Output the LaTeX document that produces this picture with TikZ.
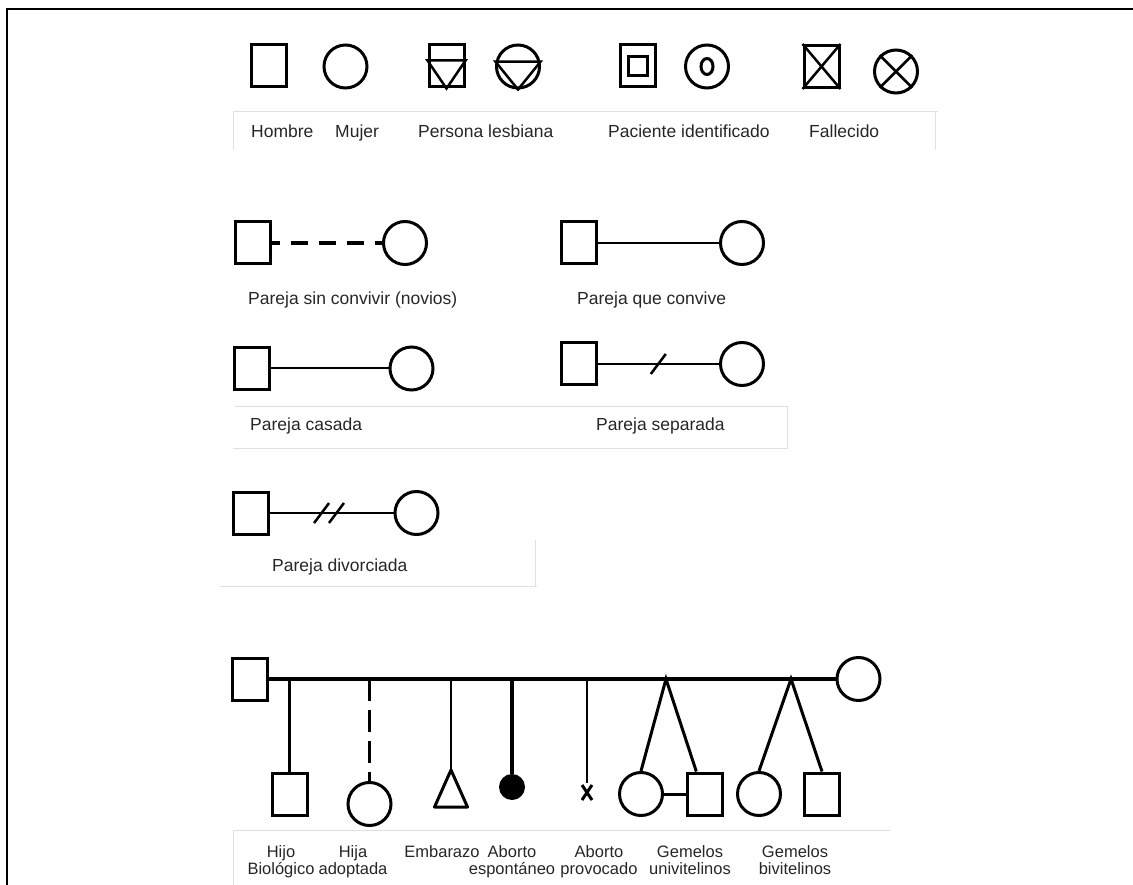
\documentclass[tikz,border=0pt]{standalone}
\usepackage{fontspec}
\usepackage{tikz}
\usetikzlibrary{calc,positioning}
\newfontfamily\etiq{Liberation Sans}

\begin{document}
\begin{tikzpicture}[x=1pt,y=-1pt,
                    hombre/.style={draw,line width=3pt,minimum width=35pt,minimum height=42pt,inner sep=0pt},
                    mujer/.style={draw,circle,line width=3pt,minimum size=43pt,inner sep=0pt},
                    etiqueta/.style={anchor=base west,inner sep=0pt,text=black!85,font=\etiq\fontsize{17.5}{20}\selectfont},
                    pie/.style={anchor=north,align=center,inner sep=0pt,text=black!85,font=\etiq\fontsize{16.5}{17.5}\selectfont},
                    gris/.style={draw=black!12,line width=1pt}]
                    \useasboundingbox (0,0) rectangle (1133,885);
                    \draw[line width=2.5pt](7,885)--(7,9)--(1133,9);
                    % simbolos
                    \node[hombre] (h1) at (268.5,66){};
                    \node[mujer] (m1) at (345.5,66.5){};
                    \node[hombre] (l1) at (446.5,66){};
                    \draw[line width=2.5pt]([yshift=-17pt]l1.north west)--([yshift=-17pt]l1.north east)--(l1.south)--cycle;
                    \node[mujer] (l2) at (518,66.5){};
                    \draw[line width=2.5pt](l2.168)--(l2.12)--(l2.south)--cycle;
                    \node[hombre] (p1) at (637.5,66){};
                    \node[hombre,minimum width=19pt,minimum height=19pt] (p1i) at (p1){};
                    \node[mujer] (p2) at (707,66.5){};
                    \draw[line width=3pt](p2) ellipse (6pt and 8pt);
                    \node[hombre] (f1) at (821.5,66.5){};
                    \draw[line width=2.5pt](f1.north west)--(f1.south east) (f1.north east)--(f1.south west);
                    \node[mujer] (f2) at (896,71.5){};
                    \draw[line width=2.5pt](f2.45)--(f2.225) (f2.135)--(f2.315);
                    \foreach \u/\t [count=\i] in {251/Hombre,335/Mujer,418/Persona lesbiana,608/Paciente identificado,809/Fallecido}
                    \node[etiqueta] (s\i) at (\u,138){\t};
                    \draw[gris](233,150)--(233,112)--(938,112) (935,112)--(935,150);
                    % parejas
                    \foreach \n/\xa/\xb/\y in {nov/253/405/243,con/578.5/742/243,cas/252/411.5/368.5,sep/578.5/742/364,div/250.5/416.5/513} {
                    \node[hombre] (h\n) at (\xa,\y){};
                    \node[mujer] (m\n) at (\xb,\y){};
                    }
                    \draw[line width=3.5pt,dash pattern=on 17pt off 11pt,dash phase=9pt](hnov)--(mnov);
                    \draw[line width=2pt](hcon)--(mcon);
                    \draw[line width=2pt](hcas)--(mcas);
                    \draw[line width=2.5pt](hsep)--(msep) coordinate[pos=.5] (bsep);
                    \draw[line width=2.5pt]([shift={(-7.5,10)}]bsep)--([shift={(7.5,-10)}]bsep);
                    \draw[line width=2pt](hdiv)--(mdiv) coordinate[pos=.42] (bdiv1) coordinate[pos=.54] (bdiv2);
                    \foreach \b in {bdiv1,bdiv2}
                    \draw[line width=2.5pt]([shift={(-7.5,10)}]\b)--([shift={(7.5,-10)}]\b);
                    \foreach \u/\v/\t [count=\i] in {248/305/Pareja sin convivir (novios),577/305/Pareja que convive,250/430/Pareja casada,596/430/Pareja separada,272/571/Pareja divorciada}
                    \node[etiqueta] (e\i) at (\u,\v){\t};
                    \draw[gris](235,406)--(787,406)--(787,448)--(233,448);
                    \draw[gris](220,586)--(537,586) (535,540)--(535,586);
                    % descendencia
                    \node[hombre] (padre) at (250,679){};
                    \node[mujer] (madre) at (858.5,679){};
                    \draw[line width=3.5pt](padre)--(madre);
                    \node[hombre] (hijo) at (289.5,794){};
                    \node[mujer] (hija) at (369.5,804){};
                    \coordinate (emb) at (451,770);
                    \node[circle,fill,inner sep=0pt,minimum size=26pt] (esp) at (512,787){};
                    \coordinate (prov) at (587,783);
                    \node[mujer] (gu1) at (641,794){};
                    \node[hombre] (gu2) at (704.5,794){};
                    \node[mujer] (gb1) at (759,794){};
                    \node[hombre] (gb2) at (822,794){};
                    \coordinate (apu) at (666,679);
                    \coordinate (apb) at (791,679);
                    \draw[line width=3.5pt](padre -| hijo)--(hijo);
                    \draw[line width=3.5pt,dash pattern=on 22pt off 9pt](padre -| hija)--(hija);
                    \draw[line width=2.5pt](padre -| emb)--(emb);
                    \draw[line width=3pt,line join=round](emb)--++(-16.5,37)--++(33,0)--cycle;
                    \draw[line width=3.5pt](padre -| esp)--(esp);
                    \draw[line width=2.5pt](padre -| prov)--(prov);
                    \draw[line width=3pt]([shift={(-5,2)}]prov)--([shift={(5,17)}]prov) ([shift={(5,2)}]prov)--([shift={(-5,17)}]prov);
                    \draw[line width=3pt](gu1.north)--(apu)--(gu2.110);
                    \draw[line width=3pt](gu1)--(gu2);
                    \draw[line width=3pt](gb1.north)--(apb)--(gb2.north);
                    \foreach \u/\t in {281/Hijo\\Biológico,353/Hija\\adoptada,442/Embarazo,512/Aborto\\espontáneo,599/Aborto\\provocado,690/Gemelos\\univitelinos,795/Gemelos\\bivitelinos}
                    \node[pie] (pie\u) at (\u,845){\t};
                    \draw[gris](233,885)--(233,830)--(890,830);
                \end{tikzpicture}
\end{document}
